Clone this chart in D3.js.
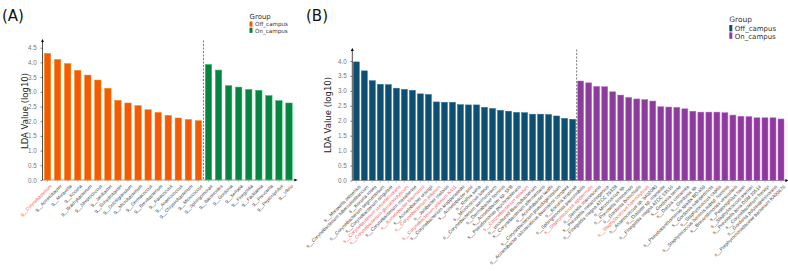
<!DOCTYPE html>
<html>
<head>
<meta charset="utf-8">
<script src="https://cdn.jsdelivr.net/npm/d3@7"></script>
<style>
  body { margin: 0; background: #fff; }
  svg { font-family: "DejaVu Sans", sans-serif; }
</style>
</head>
<body>
<svg id="chart" width="788" height="271"></svg>
<script>
// Panel A: genus level
var offA = ["g__Corynebacterium","g__Acinetobacter","g__Moraxella","g__Kocuria","g__Brachybacterium","g__Streptococcus","g__Janibacter","g__Enhydrobacter","g__Dolosigranulum","g__Microbacterium","g__Dermacoccus","g__Brevibacterium","g__Paracoccus","g__Anaerococcus","g__Chryseobacterium","g__Micrococcus"];
var offAValues = [4.31,4.10,3.96,3.73,3.57,3.40,3.12,2.71,2.62,2.53,2.39,2.30,2.20,2.11,2.06,2.02];
var onA = ["g__Sphingomonas","g__Bacteroides","g__Gordonia","g__Serratia","g__Finegoldia","g__Facklamia","g__Prevotella","g__Peptoniphilus","g__Vibrio"];
var onAValues = [3.93,3.74,3.21,3.16,3.08,3.05,2.87,2.70,2.62];
var redA = ["g__Corynebacterium"];
var ticksA = [0,0.5,1,1.5,2,2.5,3,3.5,4,4.5];

// Panel B: species level
var offB = ["s__Moraxella osloensis","s__Corynebacterium tuberculostearicum","s__Kocuria rosea","s__Corynebacterium segmentosum","s__Corynebacterium singulare","s__Corynebacterium ureicelerivorans","s__Corynebacterium glucuronolyticum","s__Corynebacterium massiliense","s__Acinetobacter baumannii","s__Acinetobacter ursingii","s__Corynebacterium jeikeium","s__Janibacter melonis","s__Corynebacterium jeikeium K411","s__Corynebacterium kroppenstedtii","s__Acinetobacter junii","s__Rothia aeria","s__Micrococcus luteus","s__Corynebacterium aurimucosum","s__Dermabacter hominis","s__Acinetobacter sp. SFB","s__Pseudomonas psychrotolerans","s__Corynebacterium striatum","s__uncultured Brachybacterium","s__Corynebacterium afermentans","s__Acinetobacter lwoffii","s__Corynebacterium pseudogenitalium","s__Acinetobacter calcoaceticus baumannii complex","s__Kocuria kristinae"];
var offBValues = [3.97,3.67,3.34,3.22,3.21,3.09,3.05,3.02,2.90,2.88,2.63,2.62,2.62,2.54,2.53,2.53,2.45,2.41,2.35,2.32,2.28,2.27,2.22,2.22,2.21,2.16,2.08,2.05];
var onB = ["s__Sphingomonas paucimobilis","s__Staphylococcus epidermidis","s__Serratia marcescens","s__Prevotella melaninogenica","s__Finegoldia magna ATCC 29328","s__Micrococcus sp.","s__Prevotella timonensis","s__Gordonia bronchialis","s__Staphylococcus haemolyticus","s__Anaerococcus sp. 9402080","s__Dialister sp. marseille","s__Finegoldia magna ATCC 53516","s__Gordonia terrae","s__Dietzia cinnamea","s__Gordonia sp.","s__Pseudoxanthomonas spadix BD-a59","s__Gordonia rubripertincta","s__Staphylococcus capitis","s__Staphylococcus hominis subsp. hominis","s__Brevundimonas vesicularis","s__Peptoniphilus harei","s__Staphylococcus warneri","s__Prevotella bivia DSM 20514","s__Corynebacterium freneyi","s__Gordonia polyisoprenivorans","s__Porphyromonadaceae bacterium KA00676"];
var onBValues = [3.33,3.27,3.15,3.14,2.97,2.86,2.78,2.73,2.71,2.66,2.47,2.46,2.45,2.40,2.32,2.29,2.29,2.29,2.27,2.19,2.15,2.14,2.10,2.10,2.10,2.06];
var redB = ["s__Corynebacterium ureicelerivorans","s__Corynebacterium glucuronolyticum","s__Acinetobacter baumannii","s__Corynebacterium jeikeium","s__Corynebacterium jeikeium K411","s__Corynebacterium striatum","s__Staphylococcus epidermidis","s__Staphylococcus haemolyticus"];
var ticksB = [0,0.5,1,1.5,2,2.5,3,3.5,4];

var groups = ["Off_campus","On_campus"];

var svg = d3.select("#chart");

var defs = svg.append("defs");
defs.append("marker")
    .attr("id", "arrow")
    .attr("viewBox", "0 0 10 10")
    .attr("refX", 5).attr("refY", 5)
    .attr("markerWidth", 4).attr("markerHeight", 4)
    .attr("orient", "auto")
  .append("path")
    .attr("d", "M0,0 L10,5 L0,10 z")
    .attr("fill", "#111");

// draws one panel
function panel(p) {
  var names = p.off.concat(p.on);
  var values = p.offValues.concat(p.onValues);
  var data = names.map(function(n, i) {
    return {name: n, value: values[i], group: i < p.off.length ? groups[0] : groups[1]};
  });

  var x = d3.scaleBand().domain(names).range([p.left, p.right]).paddingInner(p.pad).paddingOuter(p.pad / 2);
  var y = d3.scaleLinear().domain([0, p.ymax]).range([p.bottom, p.ytop]);
  var color = d3.scaleOrdinal().domain(groups).range(p.colors);

  var g = svg.append("g");

  // bars
  g.selectAll(".bar")
      .data(data)
    .enter().append("rect")
      .attr("x", function(d) { return x(d.name); })
      .attr("y", function(d) { return y(d.value); })
      .attr("width", x.bandwidth())
      .attr("height", function(d) { return p.bottom - y(d.value); })
      .attr("fill", function(d) { return color(d.group); })
      .attr("stroke", function(d) { return d3.color(color(d.group)).brighter(1.2); })
      .attr("stroke-width", 0.5);

  // dashed divider
  var xd = x(p.on[0]) - x.step() * x.paddingInner() / 2;
  g.append("line")
      .attr("x1", xd).attr("x2", xd)
      .attr("y1", p.axisTop).attr("y2", p.bottom)
      .attr("stroke", "#555").attr("stroke-width", 0.8)
      .attr("stroke-dasharray", "2,1.5");

  // x axis
  var xa = g.append("g")
      .attr("transform", "translate(0," + p.bottom + ")")
      .call(d3.axisBottom(x).tickSize(2).tickSizeOuter(0));
  xa.select(".domain").remove();
  xa.selectAll(".tick line").attr("stroke", "#888").attr("stroke-width", 0.5);
  xa.selectAll("text")
      .attr("font-size", p.xfont)
      .attr("fill", function(d) { return p.red.indexOf(d) >= 0 ? "#f0595c" : "#444"; })
      .attr("text-anchor", "end")
      .attr("dx", "-0.3em").attr("dy", "0.6em")
      .attr("transform", "rotate(-45)");
  g.append("line")
      .attr("x1", p.left).attr("x2", p.right + 2)
      .attr("y1", p.bottom).attr("y2", p.bottom)
      .attr("stroke", "#888").attr("stroke-width", 0.8)
      .attr("marker-end", "url(#arrow)");

  // y axis
  var ya = g.append("g")
      .attr("transform", "translate(" + p.left + ",0)")
      .call(d3.axisLeft(y).tickValues(p.ticks).tickFormat(d3.format(".1f")).tickSize(2));
  ya.select(".domain").remove();
  ya.selectAll(".tick line").attr("stroke", "#888");
  ya.selectAll("text").attr("font-size", 6.3).attr("fill", "#777").attr("dx", "-0.1em");
  g.append("line")
      .attr("x1", p.left).attr("x2", p.left)
      .attr("y1", p.bottom).attr("y2", p.axisTop)
      .attr("stroke", "#222").attr("stroke-width", 0.8)
      .attr("marker-end", "url(#arrow)");

  g.append("text")
      .attr("transform", "translate(" + p.ylabX + "," + p.ylabY + ") rotate(-90)")
      .attr("text-anchor", "middle")
      .attr("font-size", 8.5)
      .attr("fill", "#222")
      .text("LDA Value (log10)");

  // panel tag
  g.append("text")
      .attr("x", p.tagX).attr("y", 21)
      .attr("font-size", 15)
      .attr("fill", "#111")
      .text(p.tag);

  // legend
  var lg = g.append("g").attr("transform", "translate(" + p.legX + "," + p.legY + ")");
  lg.append("text").attr("x", 0).attr("y", 0).attr("font-size", p.legTitle).attr("fill", "#333").text("Group");
  groups.forEach(function(k, i) {
    lg.append("rect")
        .attr("x", 0).attr("y", 3 + i * p.legStep)
        .attr("width", 3).attr("height", p.legStep - 1)
        .attr("fill", color(k));
    lg.append("text")
        .attr("x", 5.5).attr("y", 3 + i * p.legStep + p.legStep - 1.3)
        .attr("font-size", p.legFont).attr("fill", "#333")
        .text(k);
  });
}

panel({
  off: offA, on: onA, offValues: offAValues, onValues: onAValues, red: redA, ticks: ticksA,
  left: 42.5, right: 294, bottom: 180, ytop: 47.7, ymax: 4.5, axisTop: 40.5, pad: 0.36,
  colors: ["#f25a05", "#07843f"], xfont: 4.6,
  ylabX: 28, ylabY: 111, tag: "(A)", tagX: 2,
  legX: 249.5, legY: 18.5, legTitle: 7, legFont: 5.6, legStep: 6.2
});

panel({
  off: offB, on: onB, offValues: offBValues, onValues: onBValues, red: redB, ticks: ticksB,
  left: 352.3, right: 785, bottom: 180.5, ytop: 61, ymax: 4.0, axisTop: 49.5, pad: 0.25,
  colors: ["#0d4e73", "#8c3b9d"], xfont: 4.8,
  ylabX: 331, ylabY: 115, tag: "(B)", tagX: 306,
  legX: 729.3, legY: 22, legTitle: 7.5, legFont: 7, legStep: 7.4
});
</script>
</body>
</html>
